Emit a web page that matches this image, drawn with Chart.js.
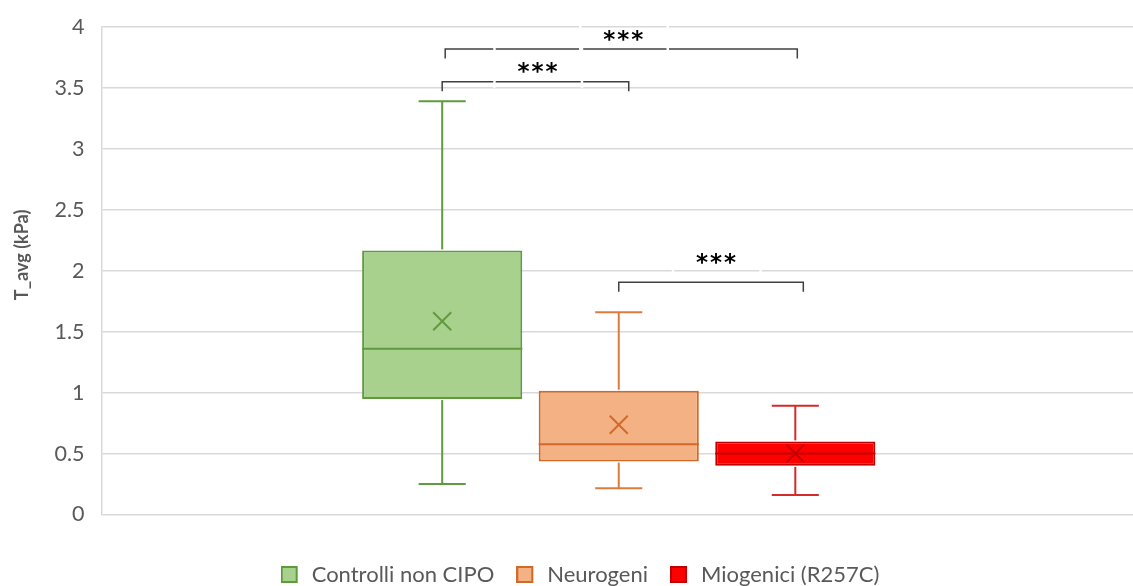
<!DOCTYPE html>
<html>
<head>
<meta charset="utf-8">
<script src="https://cdn.jsdelivr.net/npm/chart.js@4.4.1/dist/chart.umd.min.js"></script>
<style>
  html, body { margin: 0; padding: 0; background: #ffffff; overflow: hidden; }
  #wrap { width: 1137px; height: 586px; }
</style>
</head>
<body>
<div id="wrap"><canvas id="chart" width="1137" height="586"></canvas></div>
<script>
// Groups and five-number summaries of T_avg (kPa)
const groups = ['Controlli non CIPO', 'Neurogeni', 'Miogenici (R257C)'];
const whiskerLow  = [0.25, 0.215, 0.16];
const quartile1   = [0.947, 0.434, 0.399];
const medians     = [1.359, 0.577, 0.50];
const quartile3   = [2.167, 1.016, 0.60];
const whiskerHigh = [3.39, 1.66, 0.892];
const means       = [1.586, 0.736, 0.50];

// Value axis ticks
const yTickValues = [0, 0.5, 1, 1.5, 2, 2.5, 3, 3.5, 4];
const yTickLabels = ['0', '0.5', '1', '1.5', '2', '2.5', '3', '3.5', '4'];

// Significance brackets between groups
const sigFrom  = [0, 0, 1];
const sigTo    = [1, 2, 2];
const sigLevel = [3.55, 3.82, 1.905];
const sigText  = ['***', '***', '***'];

// Palette
const fillColors    = ['#a9d18e', '#f4b183', '#ff0000'];
const borderColors  = ['#5f9a3d', '#d0692a', '#c00000'];
const whiskerColors = ['#5f9a3d', '#df7b3a', '#d42a2a'];

// Bracket styling (pixel nudges for the drawn brackets and their labels)
const bracketStyle = {
  color: '#404040',
  width: 1.5,
  drop: 9.5,
  leftNudge:  [0, 3, 0],
  rightNudge: [10, 2, 8],
  labelNudgeX: [2, 2, 5],
  labelLift:  [14, 13, 24],
  boxLeft: -43,
  boxRight: 44.5,
  boxHalfH: 20
};

const FONT = 'Lato, "Open Sans", sans-serif';

// Square legend swatch followed by a little empty room before the text
function makeSwatch(fill, stroke) {
  const c = document.createElement('canvas');
  c.width = 20;
  c.height = 17;
  const g = c.getContext('2d');
  g.fillStyle = fill;
  g.fillRect(0, 0, 17, 17);
  g.strokeStyle = stroke;
  g.lineWidth = 2;
  g.strokeRect(1, 1, 15, 15);
  return c;
}
const swatches = groups.map((g, i) => makeSwatch(fillColors[i], borderColors[i]));

const boxDetails = {
  id: 'boxDetails',
  afterDatasetsDraw(chart) {
    const ctx = chart.ctx;
    const y = chart.scales.y;
    chart.data.datasets.forEach((ds, i) => {
      const bar = chart.getDatasetMeta(i).data[0];
      const cx = bar.x;
      const half = bar.width / 2;
      const capHalf = bar.width * 0.147;
      const yLo = y.getPixelForValue(whiskerLow[i]);
      const yQ1 = y.getPixelForValue(quartile1[i]);
      const yMed = y.getPixelForValue(medians[i]);
      const yQ3 = y.getPixelForValue(quartile3[i]);
      const yHi = y.getPixelForValue(whiskerHigh[i]);
      const yMean = y.getPixelForValue(means[i]);
      const line = (x1, y1, x2, y2) => { ctx.beginPath(); ctx.moveTo(x1, y1); ctx.lineTo(x2, y2); ctx.stroke(); };
      ctx.save();
      ctx.lineWidth = 2;
      ctx.strokeStyle = whiskerColors[i];
      line(cx, yQ3 - 1, cx, yHi);
      line(cx, yQ1 + 1, cx, yLo);
      line(cx - capHalf, yHi, cx + capHalf, yHi);
      line(cx - capHalf, yLo, cx + capHalf, yLo);
      ctx.strokeStyle = borderColors[i];
      line(cx - half, yMed, cx + half, yMed);
      const m = 9;
      line(cx - m, yMean - m, cx + m, yMean + m);
      line(cx - m, yMean + m, cx + m, yMean - m);
      ctx.restore();
    });
  },
  afterDraw(chart) {
    const ctx = chart.ctx;
    const y = chart.scales.y;
    const centers = chart.data.datasets.map((ds, i) => chart.getDatasetMeta(i).data[0].x);
    const s = bracketStyle;

    // Axis title
    ctx.save();
    ctx.fillStyle = '#595959';
    ctx.font = 'bold 18px ' + FONT;
    ctx.textAlign = 'center';
    ctx.textBaseline = 'middle';
    ctx.translate(22, y.getPixelForValue(2.13));
    ctx.rotate(-Math.PI / 2);
    ctx.fillText('T_avg (kPa)', 0, 0);
    ctx.restore();

    sigFrom.forEach((from, k) => {
      const x1 = centers[from] + s.leftNudge[k];
      const x2 = centers[sigTo[k]] + s.rightNudge[k];
      const yb = y.getPixelForValue(sigLevel[k]);
      ctx.save();
      ctx.strokeStyle = s.color;
      ctx.lineWidth = s.width;
      ctx.beginPath();
      ctx.moveTo(x1, yb + s.drop);
      ctx.lineTo(x1, yb);
      ctx.lineTo(x2, yb);
      ctx.lineTo(x2, yb + s.drop);
      ctx.stroke();
      ctx.restore();
    });

    sigFrom.forEach((from, k) => {
      const x1 = centers[from] + s.leftNudge[k];
      const x2 = centers[sigTo[k]] + s.rightNudge[k];
      const yb = y.getPixelForValue(sigLevel[k]);
      const tx = (x1 + x2) / 2 + s.labelNudgeX[k];
      const ty = yb - s.labelLift[k];
      // white edges of the label box
      ctx.save();
      ctx.strokeStyle = '#ffffff';
      ctx.lineWidth = 2.5;
      [s.boxLeft, s.boxRight].forEach(dx => {
        ctx.beginPath();
        ctx.moveTo(tx + dx, ty - s.boxHalfH);
        ctx.lineTo(tx + dx, ty + s.boxHalfH);
        ctx.stroke();
      });
      ctx.restore();
    });

    sigFrom.forEach((from, k) => {
      const x1 = centers[from] + s.leftNudge[k];
      const x2 = centers[sigTo[k]] + s.rightNudge[k];
      const yb = y.getPixelForValue(sigLevel[k]);
      const tx = (x1 + x2) / 2 + s.labelNudgeX[k];
      const ty = yb - s.labelLift[k];
      ctx.save();
      ctx.fillStyle = '#000000';
      ctx.font = 'bold 23px "DejaVu Sans"';
      ctx.letterSpacing = '2px';
      ctx.textAlign = 'center';
      ctx.textBaseline = 'alphabetic';
      const mt = ctx.measureText(sigText[k]);
      const off = (mt.actualBoundingBoxAscent - mt.actualBoundingBoxDescent) / 2;
      ctx.fillText(sigText[k], tx + 1, ty + off);
      ctx.restore();
    });
  }
};

new Chart(document.getElementById('chart'), {
  type: 'bar',
  data: {
    labels: [''],
    datasets: groups.map((g, i) => ({
      label: g,
      data: [[quartile1[i], quartile3[i]]],
      backgroundColor: fillColors[i],
      borderColor: borderColors[i],
      borderWidth: 2,
      borderSkipped: false,
      categoryPercentage: 0.512,
      barPercentage: 0.907
    }))
  },
  options: {
    responsive: false,
    animation: false,
    devicePixelRatio: 1,
    layout: { padding: { top: 27, left: 24, right: 1, bottom: -9.5 } },
    scales: {
      x: {
        display: true,
        ticks: { display: false },
        grid: { display: false },
        border: { display: false },
        afterFit(scale) { scale.height = 27; }
      },
      y: {
        min: 0,
        max: 4,
        afterFit(scale) { scale.width = 77.5; },
        afterBuildTicks(scale) { scale.ticks = yTickValues.map(v => ({ value: v })); },
        ticks: {
          padding: 3,
          color: '#595959',
          font: { family: FONT, size: 21.5 },
          callback: (v) => yTickLabels[yTickValues.indexOf(v)]
        },
        grid: { color: '#d9d9d9', lineWidth: 1.5, drawTicks: true, tickLength: 14, tickColor: 'rgba(0,0,0,0)' },
        border: { display: true, color: '#d9d9d9', width: 1.5 }
      }
    },
    plugins: {
      legend: {
        position: 'bottom',
        labels: {
          color: '#595959',
          font: { family: FONT, size: 22 },
          usePointStyle: true,
          pointStyleWidth: 20,
          boxHeight: 17,
          padding: 22,
          generateLabels: (chart) => chart.data.datasets.map((ds, i) => ({
            text: ds.label,
            fillStyle: fillColors[i],
            strokeStyle: borderColors[i],
            lineWidth: 2,
            pointStyle: swatches[i],
            fontColor: '#595959',
            datasetIndex: i,
            hidden: false
          }))
        }
      },
      tooltip: { enabled: false }
    }
  },
  plugins: [boxDetails]
});
</script>
</body>
</html>
